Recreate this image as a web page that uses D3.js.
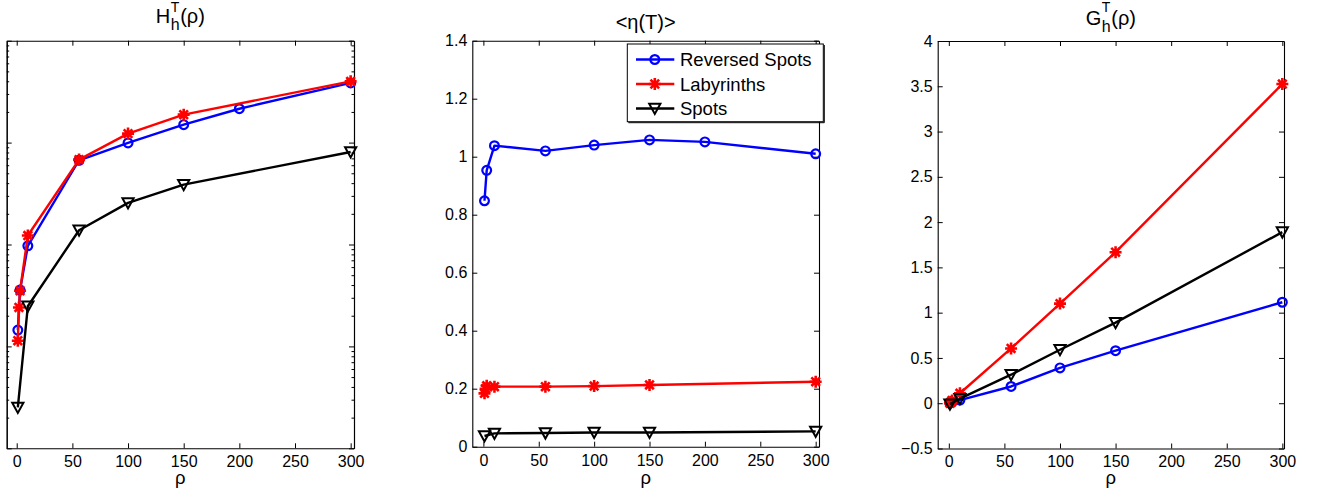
<!DOCTYPE html>
<html>
<head>
<meta charset="utf-8">
<script src="https://cdn.jsdelivr.net/npm/d3@7"></script>
<style>
  html, body { margin: 0; padding: 0; background: #fff; }
  svg { display: block; }
  text { font-family: "Liberation Sans", Arial, Helvetica, sans-serif; fill: #000; }
</style>
</head>
<body>
<svg id="chart" width="1320" height="496"></svg>
<script>
// ---- shared tick labels ----
const rhoTicks = [0, 50, 100, 150, 200, 250, 300];
const etaTicks = [0, 0.2, 0.4, 0.6, 0.8, 1, 1.2, 1.4];
const gTicks = [-0.5, 0, 0.5, 1, 1.5, 2, 2.5, 3, 3.5, 4];
const hDecades = [1e-3, 1e-2, 1e-1, 1, 10];

// ---- series names ----
const seriesNames = ["Reversed Spots", "Labyrinths", "Spots"];

// ---- H_h^T(rho), log scale ----
const hRevRho = [1, 3, 10, 56, 100, 150, 200, 300];
const hRevVal = [0.01445, 0.0357, 0.0971, 0.671, 0.993, 1.50, 2.15, 3.85];
const hLabRho = [1, 2, 3, 10, 56, 100, 150, 300];
const hLabVal = [0.01138, 0.0241, 0.0352, 0.1225, 0.681, 1.225, 1.88, 3.99];
const hSpotRho = [1, 10, 56, 100, 150, 300];
const hSpotVal = [0.00252, 0.0248, 0.138, 0.256, 0.387, 0.809];

// ---- <eta(T)> ----
const etaRevRho = [1, 3, 10, 56, 100, 150, 200, 300];
const etaRevVal = [0.848, 0.953, 1.038, 1.020, 1.040, 1.058, 1.051, 1.010];
const etaLabRho = [1, 2, 3, 10, 56, 100, 150, 300];
const etaLabVal = [0.184, 0.200, 0.210, 0.207, 0.207, 0.209, 0.213, 0.224];
const etaSpotRho = [1, 10, 56, 100, 150, 300];
const etaSpotVal = [0.037, 0.046, 0.047, 0.049, 0.049, 0.053];

// ---- G_h^T(rho) ----
const gRevRho = [1, 3, 10, 56, 100, 150, 300];
const gRevVal = [0.0, 0.01, 0.035, 0.185, 0.39, 0.58, 1.115];
const gLabRho = [1, 2, 3, 10, 56, 100, 150, 300];
const gLabVal = [0.0, 0.015, 0.03, 0.11, 0.605, 1.10, 1.668, 3.525];
const gSpotRho = [1, 10, 56, 100, 150, 300];
const gSpotVal = [-0.01, 0.05, 0.315, 0.59, 0.89, 1.89];

const colors = ["#0000ff", "#ff0000", "#000000"];
const markerKinds = ["circle", "star", "tri"];
const FONT = "'Liberation Sans', Arial, Helvetica, sans-serif";
const TICK_FONT = 16;

const svg = d3.select("#chart");

const zip = (xs, ys) => xs.map((x, i) => [x, ys[i]]);
const fmt = d => String(d).replace("-", "\u2212");

function marker(sel, kind, color) {
  if (kind === "circle") {
    sel.append("circle").attr("r", 4.4)
      .attr("fill", "none").attr("stroke", color).attr("stroke-width", 2.2);
  } else if (kind === "star") {
    sel.append("path")
      .attr("d", "M-6,0H6M0,-6V6M-4.3,-4.3L4.3,4.3M-4.3,4.3L4.3,-4.3")
      .attr("fill", "none").attr("stroke", color).attr("stroke-width", 2.6);
  } else {
    sel.append("path")
      .attr("d", "M-5.6,-4.7L5.6,-4.7L0,5.5Z")
      .attr("fill", "none").attr("stroke", color).attr("stroke-width", 2)
      .attr("stroke-linejoin", "miter");
  }
}

function styleAxis(g) {
  g.attr("font-size", TICK_FONT).attr("font-family", FONT);
  g.selectAll("path.domain").attr("stroke", "#000").attr("stroke-width", 1.1);
  g.selectAll(".tick line").attr("stroke", "#000").attr("stroke-width", 1);
  g.selectAll(".tick text").attr("fill", "#000");
}

function panel(cfg) {
  const g = svg.append("g");
  const x = d3.scaleLinear().domain(cfg.xDomain).range([cfg.left, cfg.right]);
  const y = (cfg.log ? d3.scaleLog() : d3.scaleLinear())
    .domain(cfg.yDomain).range([cfg.bottom, cfg.top]);

  // axes: labelled bottom/left, mirrored ticks top/right, ticks pointing inward
  g.append("g").attr("transform", `translate(0,${cfg.bottom})`)
    .call(d3.axisBottom(x).tickValues(rhoTicks).tickFormat(fmt)
      .tickSizeInner(-5).tickSizeOuter(0).tickPadding(7.5))
    .call(styleAxis);
  g.append("g").attr("transform", `translate(0,${cfg.top})`)
    .call(d3.axisTop(x).tickValues(rhoTicks).tickFormat(() => "")
      .tickSizeInner(-5).tickSizeOuter(0))
    .call(styleAxis);

  const yTickVals = cfg.log ? hDecades : cfg.yTicks;
  const yFmt = cfg.log ? (() => "") : fmt;
  g.append("g").attr("transform", `translate(${cfg.left},0)`)
    .call(d3.axisLeft(y).tickValues(yTickVals).tickFormat(yFmt)
      .tickSizeInner(-5).tickSizeOuter(0).tickPadding(5))
    .call(styleAxis);
  g.append("g").attr("transform", `translate(${cfg.right},0)`)
    .call(d3.axisRight(y).tickValues(yTickVals).tickFormat(() => "")
      .tickSizeInner(-5).tickSizeOuter(0))
    .call(styleAxis);

  if (cfg.log) {
    // minor log ticks on both vertical sides
    const minor = y.ticks().filter(v => !hDecades.some(d => Math.abs(d - v) / d < 1e-6));
    g.append("g").attr("transform", `translate(${cfg.left},0)`)
      .call(d3.axisLeft(y).tickValues(minor).tickFormat(() => "")
        .tickSizeInner(-2.5).tickSizeOuter(0))
      .call(styleAxis);
    g.append("g").attr("transform", `translate(${cfg.right},0)`)
      .call(d3.axisRight(y).tickValues(minor).tickFormat(() => "")
        .tickSizeInner(-2.5).tickSizeOuter(0))
      .call(styleAxis);
  }

  // series lines and markers
  const line = d3.line().x(d => x(d[0])).y(d => y(d[1]));
  cfg.series.forEach((pts, i) => {
    g.append("path").datum(pts).attr("d", line)
      .attr("fill", "none").attr("stroke", colors[i])
      .attr("stroke-width", 2.4).attr("stroke-linejoin", "round");
    g.append("g").selectAll("g").data(pts).join("g")
      .attr("transform", d => `translate(${x(d[0])},${y(d[1])})`)
      .each(function () { marker(d3.select(this), markerKinds[i], colors[i]); });
  });

  // x label
  g.append("text").attr("x", (cfg.left + cfg.right) / 2).attr("y", 484)
    .attr("text-anchor", "middle").attr("font-size", 18.5).text("\u03c1");

  // title
  const cx = (cfg.left + cfg.right) / 2;
  if (cfg.title.plain) {
    g.append("text").attr("x", cx).attr("y", cfg.title.base)
      .attr("text-anchor", "middle").attr("font-size", 20).text(cfg.title.plain);
  } else {
    const t = g.append("g");
    const main = t.append("text").attr("x", 0).attr("y", cfg.title.base)
      .attr("font-size", 20).text(cfg.title.main);
    const w0 = main.node().getComputedTextLength();
    const sup = t.append("text").attr("x", w0 + 0.5).attr("y", cfg.title.supBase)
      .attr("font-size", 14).text(cfg.title.sup);
    const sub = t.append("text").attr("x", w0 + 0.5).attr("y", cfg.title.subBase)
      .attr("font-size", 16).text(cfg.title.sub);
    const w1 = Math.max(sup.node().getComputedTextLength(), sub.node().getComputedTextLength());
    const tail = t.append("text").attr("x", w0 + w1 + 1).attr("y", cfg.title.base)
      .attr("font-size", 20).text(cfg.title.tail);
    const total = w0 + w1 + 1 + tail.node().getComputedTextLength();
    t.attr("transform", `translate(${cx - total / 2},0)`);
  }
  return { g, x, y };
}

panel({
  left: 6.7, right: 354, top: 40.7, bottom: 448.3,
  xDomain: [-9, 303], yDomain: [1e-3, 10], log: true,
  series: [zip(hRevRho, hRevVal), zip(hLabRho, hLabVal), zip(hSpotRho, hSpotVal)],
  title: { main: "H", sup: "T", sub: "h", tail: "(\u03c1)", base: 22.5, supBase: 11.5, subBase: 30 }
});

panel({
  left: 472.3, right: 819, top: 40.7, bottom: 446.7,
  xDomain: [-10, 303], yDomain: [0, 1.4], yTicks: etaTicks,
  series: [zip(etaRevRho, etaRevVal), zip(etaLabRho, etaLabVal), zip(etaSpotRho, etaSpotVal)],
  title: { plain: "<\u03b7(T)>", base: 28.5 }
});

panel({
  left: 937.7, right: 1284, top: 41, bottom: 448.5,
  xDomain: [-10, 301.5], yDomain: [-0.5, 4], yTicks: gTicks,
  series: [zip(gRevRho, gRevVal), zip(gLabRho, gLabVal), zip(gSpotRho, gSpotVal)],
  title: { main: "G", sup: "T", sub: "h", tail: "(\u03c1)", base: 24.5, supBase: 12, subBase: 31.5 }
});

// legend in the upper right of the middle panel
const lg = svg.append("g").attr("transform", "translate(627.3,44)");
lg.append("rect").attr("x", 0).attr("y", 0).attr("width", 196).attr("height", 77.7)
  .attr("fill", "#fff").attr("stroke", "#000").attr("stroke-width", 1);
lg.append("path").attr("d", "M1,78.7H197V1")
  .attr("fill", "none").attr("stroke", "#000").attr("stroke-width", 1);
seriesNames.forEach((name, i) => {
  const row = lg.append("g").attr("transform", `translate(0,${15.5 + i * 24.5})`);
  row.append("line").attr("x1", 8.7).attr("x2", 47).attr("y1", 0).attr("y2", 0)
    .attr("stroke", colors[i]).attr("stroke-width", 2.4);
  const m = row.append("g").attr("transform", "translate(27.5,0)");
  marker(m, markerKinds[i], colors[i]);
  row.append("text").attr("x", 52.7).attr("y", 6.8).attr("font-size", 18.5).text(name);
});
</script>
</body>
</html>
